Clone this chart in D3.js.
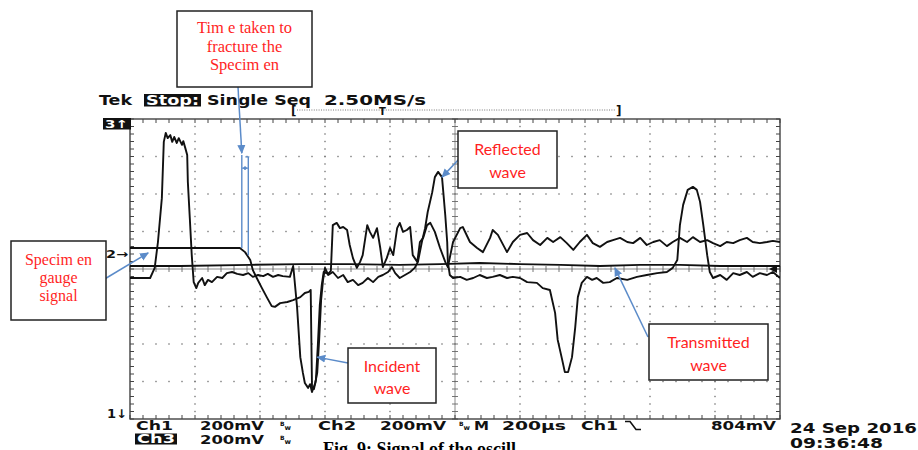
<!DOCTYPE html>
<html>
<head>
<meta charset="utf-8">
<script src="https://cdn.jsdelivr.net/npm/d3@7"></script>
<style>
  body { margin: 0; background: #fff; }
  svg { display: block; }
</style>
</head>
<body>
<script>
// ------------------------------------------------------------------
//  scope screen : time in divisions (200us/div), level in divisions
//  (200mV/div) measured from the screen centre
// ------------------------------------------------------------------

// Ch1 - incident bar (pulse, incident, reflected, 2nd pass)
const ch1T = [0,0.31,0.38,0.43,0.49,0.52,0.55,0.58,0.62,0.65, 0.68,0.72,0.75,0.80,0.82,0.85,0.88,0.89,0.92,0.95,
  0.98,1.02,1.05,1.11,1.15,1.20,1.26,1.34,1.42,1.49, 1.57,1.65,1.74,1.82,1.89,1.97,2.05,2.12,2.20,2.28, 2.35,2.46,2.51,2.52,
  2.57,2.62,2.66,2.69,2.74,2.77,2.80,2.85,2.88,2.91, 2.94,2.97,3.00,
  3.05,3.12,3.20,3.28,3.35,3.43,3.51,3.58,3.66,3.74, 3.82,3.89,3.97,4.03,4.08,4.15,4.23,4.31,4.38,
  4.43,4.49,4.54,4.58,4.65,4.69,4.74,4.80,4.82,4.85, 4.88,4.89,4.92,
  4.97,5.08,5.18,5.28,5.38,5.49,5.58,5.69,5.80,5.89, 6.00,6.11,6.26,6.35,6.46,
  6.54,6.58,6.65,6.69,6.74,6.80,6.85,6.89,6.95,7.03, 7.11,7.18,7.28,7.38,7.49,7.65,7.80,7.95,8.11,8.26, 8.35,
  8.42,8.46,8.51,8.58,8.66,8.72,8.77,8.82,8.88,8.92, 8.97,9.08,9.18,9.28,9.38,9.49,9.58,9.69,9.80,9.89, 10.00];
const ch1V = [-0.24,-0.24,0.03,0.72,1.89,3.39,3.63,3.49,3.57,3.39, 3.52,3.36,3.49,3.31,3.41,3.23,3.04,2.32,1.36,0.37,
  -0.35,-0.51,-0.37,-0.24,-0.43,-0.29,-0.35,-0.21,-0.24,-0.11, -0.08,-0.13,-0.16,-0.11,-0.21,-0.16,-0.19,-0.13,-0.21,-0.16, -0.19,-0.21,0.08,-0.08,
  -1.01,-2.35,-2.77,-3.04,-3.17,-3.07,-3.28,-3.04,-2.77,-1.89, -0.83,-0.29,0.03,
  -0.16,-0.08,-0.24,-0.16,-0.35,-0.29,-0.43,-0.37,-0.24,-0.35, -0.21,-0.16,-0.08,0.05,-0.11,-0.24,-0.16,-0.08,0.03,
  0.19,0.72,1.09,1.52,2.05,2.45,2.59,2.45,2.05,1.44, 0.72,0.19,-0.16,
  -0.24,-0.21,-0.29,-0.24,-0.16,-0.24,-0.21,-0.16,-0.24,-0.21, -0.24,-0.35,-0.37,-0.51,-0.56,
  -1.17,-1.89,-2.43,-2.75,-2.75,-2.35,-1.55,-0.75,-0.37,-0.21, -0.29,-0.24,-0.37,-0.35,-0.24,-0.29,-0.21,-0.16,-0.11,-0.08, 0.03,
  0.24,1.17,1.71,2.11,2.19,2.11,1.79,1.17,0.37,-0.08, -0.24,-0.16,-0.29,-0.11,-0.16,-0.08,-0.21,-0.11,-0.16,-0.08, -0.24];

// Ch2 - specimen gauge
const ch2T = [0,1.69,1.77,1.85,1.89,1.95,2.03,2.11,2.18,2.23, 2.31,2.42,2.51,2.62,2.69,2.75,2.78,
  2.80,2.83,2.86,2.89,2.92,2.95,2.98,3.05,3.09,
  3.12,3.18,3.23,3.28,3.34,3.38,3.43,3.49,3.54,3.58, 3.65,3.69,3.74,3.80,3.85,3.89,3.95,4.00,4.05,4.11,
  4.15,4.20,4.26,4.31,4.35,4.42,4.46,4.51,4.57,4.62, 4.69,4.77,4.85,4.89,
  4.97,5.08,5.12,5.23,5.34,5.43,5.54,5.58,5.66,5.80, 5.89,6.00,6.11,6.20,6.31,6.42,6.51,6.62,6.72,6.82,
  6.92,7.03,7.12,7.23,7.34,7.43,7.54,7.65,7.74,7.85, 7.95,8.05,8.15,8.26,8.35,8.46,8.57,8.66,8.77,8.88,
  8.97,9.08,9.18,9.28,9.38,9.49,9.58,9.69,9.80,9.89, 10.00];
const ch2V = [0.56,0.56,0.45,0.24,-0.03,-0.24,-0.51,-0.77,-0.99,-1.01, -0.91,-0.88,-0.83,-0.75,-0.64,-0.61,-0.56,
  -3.15,-3.20,-2.96,-2.03,-0.96,-0.43,-0.08,-0.13,-0.05,
  1.17,1.23,1.09,1.12,1.04,0.64,0.29,0.03,0.19,0.37, 1.17,0.99,0.83,1.09,0.56,0.05,0.29,0.56,0.37,1.09,
  1.23,0.99,1.04,1.12,0.37,0.19,0.72,0.83,1.17,1.23, 0.99,0.56,0.19,0.05,
  0.72,1.09,1.12,0.72,0.56,0.45,0.83,1.04,0.91,0.45, 0.72,0.91,0.96,0.77,0.64,0.83,0.72,0.85,0.69,0.51,
  0.72,0.91,0.69,0.59,0.72,0.77,0.83,0.72,0.69,0.83, 0.64,0.72,0.77,0.61,0.72,0.83,0.72,0.85,0.72,0.77,
  0.69,0.61,0.72,0.69,0.77,0.83,0.72,0.69,0.72,0.75, 0.72];

// Ch3 - transmitted bar
const ch3T = [0,0.77,1.85,2.62,3.38,4.15,4.77,5.38,6.00,6.62,7.23,7.85,8.46,9.08,10.00];
const ch3V = [0.08,0.08,0.11,0.13,0.13,0.11,0.13,0.16,0.13,0.11,0.08,0.11,0.11,0.08,0.08];

// readouts
const headRead  = ["Tek", "Stop:", "Single Seq", "2.50MS/s"];
const footRead1 = ["Ch1", "200mV", "Ch2", "200mV", "M", "200\u00b5s", "Ch1", "804mV"];
const footRead2 = ["Ch3", "200mV"];
const stamp     = ["24 Sep 2016", "09:36:48"];
const caption   = "Fig. 9: Signal of the oscill";

// call-outs : text lines + where the arrow points (t, level)
const noteText = [
  ["Tim e taken to", "fracture the", "Specim en"],
  ["Specim en", "gauge", "signal"],
  ["Reflected", "wave"],
  ["Incident", "wave"],
  ["Transmitted", "wave"]
];
const noteTip = [[1.72, 3.09], [0.28, 0.43], [4.80, 2.45], [2.88, -2.35], [7.46, 0.03]];

// ------------------------------------------------------------------
const blue = "#5b8bc9", red = "#ff1f1f", ink = "#111";

const svg = d3.select("body").append("svg")
    .attr("width", 918).attr("height", 450);
const defs = svg.append("defs");

const x = d3.scaleLinear().domain([0, 10]).range([130, 780]);
const y = d3.scaleLinear().domain([-4, 4]).range([419, 119]);

defs.append("clipPath").attr("id", "scr")
  .append("rect").attr("x", x(0)).attr("y", y(4))
  .attr("width", x(10) - x(0)).attr("height", y(-4) - y(4));

function marker (id, size)
{
  defs.append("marker").attr("id", id)
    .attr("viewBox", "0 0 10 10").attr("refX", 9).attr("refY", 5)
    .attr("markerWidth", size).attr("markerHeight", size)
    .attr("markerUnits", "userSpaceOnUse")
    .attr("orient", "auto-start-reverse")
    .append("path").attr("d", "M0,0.5L10,5L0,9.5Z").attr("fill", blue);
}
marker("ah", 9);
marker("ahs", 4);

// ---- graticule ---------------------------------------------------
const minX = d3.range(0, 51).map(i => i / 5);
const minY = d3.range(0, 41).map(i => i / 5 - 4);
const grid = svg.append("g");

[1, 2, 3, 4, 6, 7, 8, 9].forEach(c => {
  grid.append("g").selectAll("rect").data(minY.slice(1, -1)).join("rect")
    .attr("x", x(c) - 0.7).attr("y", d => y(d) - 0.7)
    .attr("width", 1.4).attr("height", 1.4).attr("fill", "#7a7a7a");
});
[-3, -2, -1, 1, 2, 3].forEach(r => {
  grid.append("g").selectAll("rect").data(minX.slice(1, -1)).join("rect")
    .attr("x", d => x(d) - 0.7).attr("y", y(r) - 0.7)
    .attr("width", 1.4).attr("height", 1.4).attr("fill", "#7a7a7a");
});

// centre cross with minor ticks
grid.append("line").attr("x1", x(5)).attr("x2", x(5)).attr("y1", y(4)).attr("y2", y(-4))
  .attr("stroke", "#8a8a8a").attr("stroke-width", 1);
grid.append("line").attr("x1", x(0)).attr("x2", x(10)).attr("y1", y(0)).attr("y2", y(0))
  .attr("stroke", "#8a8a8a").attr("stroke-width", 1);
grid.append("g").selectAll("line").data(minY).join("line")
  .attr("x1", x(5) - 3).attr("x2", x(5) + 3).attr("y1", d => y(d)).attr("y2", d => y(d))
  .attr("stroke", "#666").attr("stroke-width", 0.9);
grid.append("g").selectAll("line").data(minX).join("line")
  .attr("x1", d => x(d)).attr("x2", d => x(d)).attr("y1", y(0) - 3).attr("y2", y(0) + 3)
  .attr("stroke", "#666").attr("stroke-width", 0.9);

// frame + edge ticks
grid.append("rect").attr("x", x(0)).attr("y", y(4))
  .attr("width", x(10) - x(0)).attr("height", y(-4) - y(4))
  .attr("fill", "none").attr("stroke", "#333").attr("stroke-width", 1.3);
[[y(4), 4], [y(-4), -4]].forEach(([yy, dir]) => {
  grid.append("g").selectAll("line").data(minX).join("line")
    .attr("x1", d => x(d)).attr("x2", d => x(d)).attr("y1", yy).attr("y2", yy + dir)
    .attr("stroke", "#444").attr("stroke-width", 1);
});
[[x(0), 4], [x(10), -4]].forEach(([xx, dir]) => {
  grid.append("g").selectAll("line").data(minY).join("line")
    .attr("x1", xx).attr("x2", xx + dir).attr("y1", d => y(d)).attr("y2", d => y(d))
    .attr("stroke", "#444").attr("stroke-width", 1);
});

// ---- traces ------------------------------------------------------
const line = d3.line().x(d => x(d[0])).y(d => y(d[1]));
const traces = svg.append("g").attr("clip-path", "url(#scr)");
[[ch3T, ch3V], [ch2T, ch2V], [ch1T, ch1V]].forEach(([T, V]) => {
  traces.append("path").datum(d3.zip(T, V))
    .attr("d", line)
    .attr("fill", "none").attr("stroke", ink)
    .attr("stroke-width", 1.9).attr("stroke-linejoin", "round");
});

// ---- scope readouts ----------------------------------------------
function put (s, px, py, o = {})
{
  const t = svg.append("text").attr("x", px).attr("y", py).text(s)
    .attr("font-family", o.ff || "DejaVu Sans")
    .attr("font-size", o.fs || 13)
    .attr("font-weight", o.fw || "bold")
    .attr("fill", o.fill || ink);
  if (o.len) t.attr("textLength", o.len).attr("lengthAdjust", "spacingAndGlyphs");
  if (o.anchor) t.attr("text-anchor", o.anchor);
  return t;
}
function inverse (s, px, py, w, h, len, fs)
{
  svg.append("rect").attr("x", px).attr("y", py).attr("width", w).attr("height", h).attr("fill", ink);
  put(s, px + 2, py + h - 1.5, { fill: "#fff", len: len, fs: fs });
}
function bw (px, py)
{
  const t = svg.append("text").attr("x", px).attr("y", py)
    .attr("font-family", "DejaVu Sans").attr("font-weight", "bold").attr("fill", ink);
  t.append("tspan").text("B").attr("font-size", 6).attr("dy", -4);
  t.append("tspan").text("w").attr("font-size", 7).attr("dy", 4);
}

// header
put(headRead[0], 99, 105, { fs: 14, len: 33 });
inverse(headRead[1], 144, 94, 57, 12.5, 53, 14);
put(headRead[2], 207, 105, { fs: 14, len: 104 });
put(headRead[3], 324, 105, { fs: 14, len: 102 });

// record window bracket
svg.append("line").attr("x1", 297).attr("x2", 616).attr("y1", 110).attr("y2", 110)
  .attr("stroke", "#555").attr("stroke-width", 0.8).attr("stroke-dasharray", "1,1.4");
put("[", 291, 115, { fs: 12 });
put("]", 616, 115, { fs: 12 });
put("T", 379, 115, { fs: 10 });

// channel markers
inverse("3\u2191", 103, 118, 28, 11.5, 23, 11);
put("2\u2192", 106, 258, { fs: 11, len: 22 });
put("1\u2193", 107, 418, { fs: 12, len: 20 });
svg.append("path").attr("d", "M769,269L777,265L777,273Z").attr("fill", ink);

// footer
put(footRead1[0], 136, 430, { len: 37 });
put(footRead1[1], 200, 430, { len: 64 });
bw(280, 430);
put(footRead1[2], 318, 430, { len: 38 });
put(footRead1[3], 380, 430, { len: 66 });
bw(459, 430);
put(footRead1[4], 474, 430, { len: 15 });
put(footRead1[5], 502, 430, { len: 64 });
put(footRead1[6], 581, 430, { len: 37 });
svg.append("path").attr("d", "M625,421.5H630L636,429.5H641")
  .attr("fill", "none").attr("stroke", ink).attr("stroke-width", 1.6);
put(footRead1[7], 711, 430, { len: 65 });

inverse(footRead2[0], 135, 433.5, 42, 11, 38, 12.5);
put(footRead2[1], 200, 444, { len: 64, fs: 12.5 });
bw(280, 444);

put(stamp[0], 790, 433, { fs: 14, len: 127 });
put(stamp[1], 790, 448, { fs: 14, len: 93 });

put(caption, 323, 455, { ff: "Liberation Serif", fs: 18, fill: "#000" });

// ---- call-outs ---------------------------------------------------
const boxes = [
  { r: [177, 11, 135, 76],  base: [33, 52, 70],    ff: "Liberation Serif", fs: 16.5, from: [238, 87] },
  { r: [11, 241, 95, 79],   base: [265, 283, 301], ff: "Liberation Serif", fs: 16,   from: [103, 280] },
  { r: [458, 131, 99, 57],  base: [155, 178],      ff: "Lato", fs: 16, from: [460, 158] },
  { r: [348, 348, 88, 55],  base: [372, 394],      ff: "Lato", fs: 16, from: [348, 363] },
  { r: [649, 324, 119, 56], base: [348, 371],      ff: "Lato", fs: 16, from: [648, 337] }
];

const notes = svg.append("g");
boxes.forEach((b, i) => {
  const tip = noteTip[i];
  notes.append("line")
    .attr("x1", b.from[0]).attr("y1", b.from[1])
    .attr("x2", x(tip[0])).attr("y2", y(tip[1]))
    .attr("stroke", blue).attr("stroke-width", 1.5)
    .attr("marker-end", "url(#ah)");
  notes.append("rect")
    .attr("x", b.r[0]).attr("y", b.r[1]).attr("width", b.r[2]).attr("height", b.r[3])
    .attr("fill", "#fff").attr("stroke", "#222").attr("stroke-width", 1.5);
  noteText[i].forEach((s, k) => {
    notes.append("text")
      .attr("x", b.r[0] + b.r[2] / 2).attr("y", b.base[k])
      .attr("text-anchor", "middle")
      .attr("font-family", b.ff).attr("font-size", b.fs)
      .attr("fill", red).text(s);
  });
});

// fracture time bracket
const bl = 1.72, br = 1.82;
notes.append("line").attr("x1", x(bl)).attr("x2", x(bl)).attr("y1", y(3.04)).attr("y2", y(0.56))
  .attr("stroke", blue).attr("stroke-width", 1.4);
notes.append("line").attr("x1", x(br)).attr("x2", x(br)).attr("y1", y(2.99)).attr("y2", y(0.37))
  .attr("stroke", blue).attr("stroke-width", 1.4);
notes.append("line").attr("x1", x(br) - 3).attr("x2", x(br) + 1).attr("y1", y(2.99)).attr("y2", y(2.99))
  .attr("stroke", blue).attr("stroke-width", 1.2);
notes.append("line").attr("x1", x(bl) + 0.5).attr("x2", x(br) - 0.5).attr("y1", y(2.69)).attr("y2", y(2.69))
  .attr("stroke", blue).attr("stroke-width", 1)
  .attr("marker-start", "url(#ahs)").attr("marker-end", "url(#ahs)");
</script>
</body>
</html>
